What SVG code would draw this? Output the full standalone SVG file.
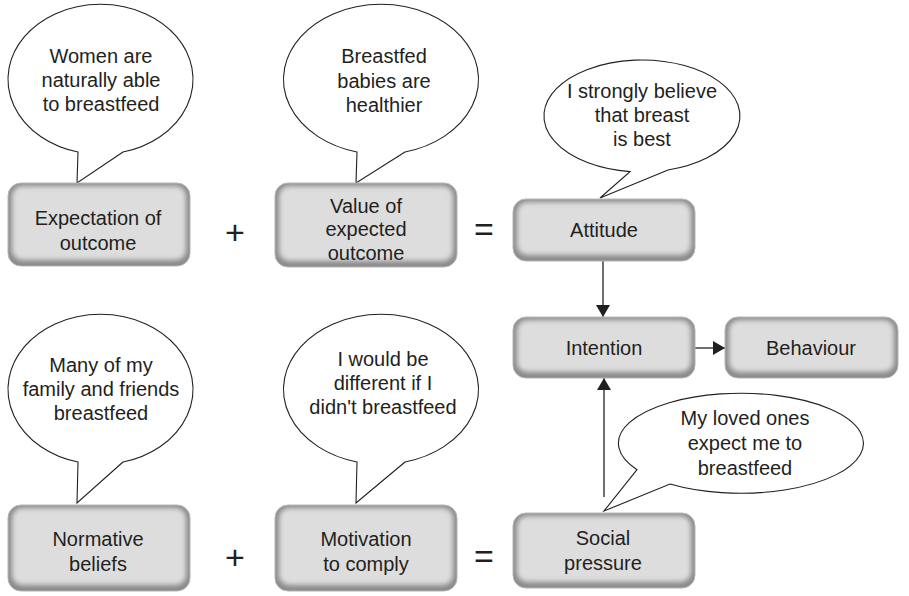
<svg xmlns="http://www.w3.org/2000/svg" width="909" height="596" viewBox="0 0 909 596">
  <defs>
    <style>
      text { font-family: "Liberation Sans", Arial, sans-serif; fill: #231f20; text-anchor: middle; }
      .lbl { font-size: 20px; }
      .op { font-size: 34px; }
      .edge { fill: #8a8a8a; stroke: #b4b4b4; stroke-width: 1; }
      .face { fill: #dddddd; filter: url(#soft); }
      .bubble { fill: #ffffff; stroke: #231f20; stroke-width: 1.1; stroke-linejoin: miter; }
      .conn { stroke: #231f20; stroke-width: 1.3; fill: none; }
    </style>
    <filter id="soft" x="-10%" y="-20%" width="120%" height="140%">
      <feGaussianBlur stdDeviation="2.6"/>
    </filter>
    <marker id="arrow" viewBox="0 0 12 14" refX="12" refY="7" markerWidth="12" markerHeight="14" markerUnits="userSpaceOnUse" orient="auto">
      <path d="M0,0 L12,7 L0,14 Z" fill="#231f20"/>
    </marker>
  </defs>

  <!-- connectors -->
  <g id="connectors">
    <line class="conn" x1="603" y1="261" x2="603" y2="317" marker-end="url(#arrow)"/>
    <line class="conn" x1="695" y1="348" x2="725" y2="348" marker-end="url(#arrow)"/>
    <line class="conn" x1="604" y1="497" x2="604" y2="378" marker-end="url(#arrow)"/>
  </g>

  <!-- operators -->
  <g id="operators">
    <text class="op" x="235" y="244">+</text>
    <text class="op" x="484" y="241">=</text>
    <text class="op" x="235" y="569">+</text>
    <text class="op" x="484" y="568">=</text>
  </g>

  <!-- speech bubbles -->
  <g id="bubble-women">
    <path class="bubble" d="M123,152 L77,183 L78,152 A92.5,75 0 1 1 123,152 Z"/>
    <text class="lbl" x="101" y="63">Women are</text>
    <text class="lbl" x="101" y="87">naturally able</text>
    <text class="lbl" x="101" y="111">to breastfeed</text>
  </g>
  <g id="bubble-healthier">
    <path class="bubble" d="M405,152 L356,183 L357,152 A97.5,75 0 1 1 405,152 Z"/>
    <text class="lbl" x="384" y="63">Breastfed</text>
    <text class="lbl" x="384" y="88">babies are</text>
    <text class="lbl" x="384" y="112">healthier</text>
  </g>
  <g id="bubble-best">
    <path class="bubble" d="M668,170 L600,198 L630,171.6 A98,56 0 1 1 668,170 Z"/>
    <text class="lbl" x="642" y="98">I strongly believe</text>
    <text class="lbl" x="642" y="122">that breast</text>
    <text class="lbl" x="642" y="146">is best</text>
  </g>
  <g id="bubble-family">
    <path class="bubble" d="M123,462 L77,503 L78,462 A92.5,75 0 1 1 123,462 Z"/>
    <text class="lbl" x="101" y="372">Many of my</text>
    <text class="lbl" x="101" y="396">family and friends</text>
    <text class="lbl" x="101" y="420">breastfeed</text>
  </g>
  <g id="bubble-different">
    <path class="bubble" d="M405,462 L356,503 L357,462 A97.5,75 0 1 1 405,462 Z"/>
    <text class="lbl" x="383" y="366">I would be</text>
    <text class="lbl" x="383" y="390">different if I</text>
    <text class="lbl" x="383" y="414">didn't breastfeed</text>
  </g>
  <g id="bubble-loved">
    <path class="bubble" d="M637,469.7 L604,511 L670,484 A122.5,50 0 1 0 637,469.7 Z"/>
    <text class="lbl" x="745" y="425">My loved ones</text>
    <text class="lbl" x="745" y="450">expect me to</text>
    <text class="lbl" x="745" y="475">breastfeed</text>
  </g>

  <!-- boxes -->
  <g id="expectation">
    <rect class="edge" x="8" y="183" width="182" height="83" rx="13"/>
    <rect class="face" x="12" y="186" width="174" height="74" rx="10"/>
    <text class="lbl" x="98" y="225">Expectation of</text>
    <text class="lbl" x="98" y="250">outcome</text>
  </g>
  <g id="value">
    <rect class="edge" x="275" y="183" width="182" height="84" rx="13"/>
    <rect class="face" x="279" y="186" width="174" height="75" rx="10"/>
    <text class="lbl" x="366" y="213">Value of</text>
    <text class="lbl" x="366" y="236">expected</text>
    <text class="lbl" x="366" y="260">outcome</text>
  </g>
  <g id="attitude">
    <rect class="edge" x="513" y="199" width="182" height="62" rx="13"/>
    <rect class="face" x="517" y="202" width="174" height="53" rx="10"/>
    <text class="lbl" x="604" y="237">Attitude</text>
  </g>
  <g id="intention">
    <rect class="edge" x="513" y="317" width="182" height="61" rx="13"/>
    <rect class="face" x="517" y="320" width="174" height="52" rx="10"/>
    <text class="lbl" x="604" y="355">Intention</text>
  </g>
  <g id="behaviour">
    <rect class="edge" x="725" y="317" width="173" height="61" rx="13"/>
    <rect class="face" x="729" y="320" width="165" height="52" rx="10"/>
    <text class="lbl" x="811" y="355">Behaviour</text>
  </g>
  <g id="normative">
    <rect class="edge" x="8" y="505" width="182" height="86" rx="13"/>
    <rect class="face" x="12" y="508" width="174" height="77" rx="10"/>
    <text class="lbl" x="98" y="546">Normative</text>
    <text class="lbl" x="98" y="571">beliefs</text>
  </g>
  <g id="motivation">
    <rect class="edge" x="275" y="505" width="182" height="86" rx="13"/>
    <rect class="face" x="279" y="508" width="174" height="77" rx="10"/>
    <text class="lbl" x="366" y="546">Motivation</text>
    <text class="lbl" x="366" y="571">to comply</text>
  </g>
  <g id="social">
    <rect class="edge" x="513" y="513" width="182" height="75" rx="13"/>
    <rect class="face" x="517" y="516" width="174" height="66" rx="10"/>
    <text class="lbl" x="603" y="545">Social</text>
    <text class="lbl" x="603" y="570">pressure</text>
  </g>
</svg>
